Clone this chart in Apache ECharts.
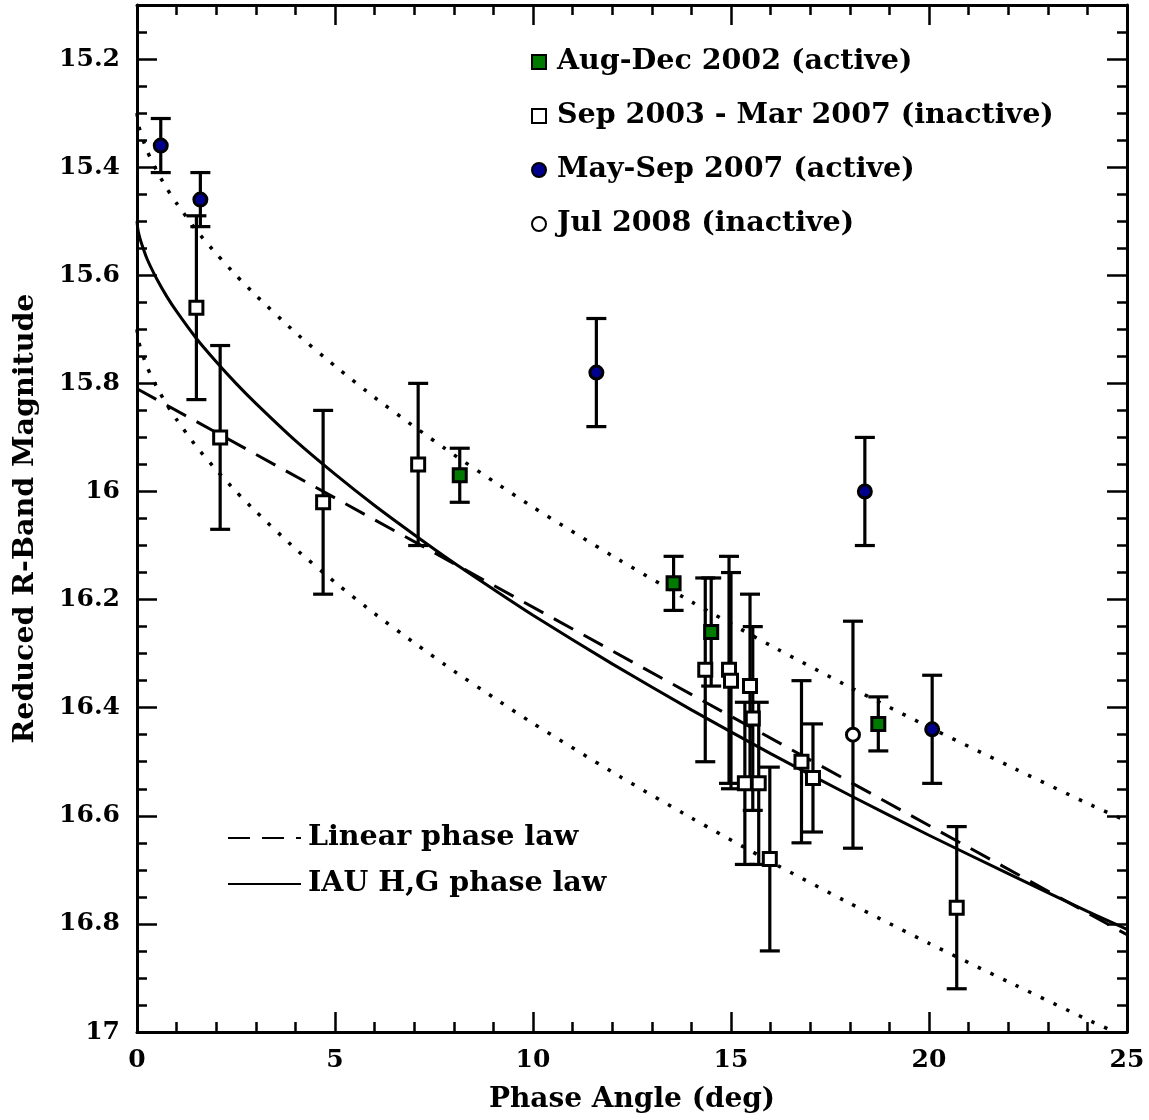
<!DOCTYPE html>
<html>
<head>
<meta charset="utf-8">
<script src="https://cdn.jsdelivr.net/npm/echarts@6/dist/echarts.min.js"></script>
<style>
  html, body { margin: 0; padding: 0; background: #fff; }
  #main { width: 1149px; height: 1120px; }
</style>
</head>
<body>
<div id="main"></div>
<script>
var chartDom = document.getElementById("main");
var myChart = echarts.init(chartDom);
var option;

// Aug-Dec 2002 (active): phase angle, magnitude, error
const activeX02 = [8.15, 13.55, 14.5, 18.72];
const activeY02 = [15.97, 16.17, 16.26, 16.43];
const activeE02 = [0.05, 0.05, 0.1, 0.05];

// Sep 2003 - Mar 2007 (inactive)
const inactX = [1.5, 2.1, 4.7, 7.1, 14.35, 14.95, 15.0, 15.48, 15.55, 15.35, 15.7, 15.98, 16.78, 17.07, 20.7];
const inactY = [15.66, 15.9, 16.02, 15.95, 16.33, 16.33, 16.35, 16.36, 16.42, 16.54, 16.54, 16.68, 16.5, 16.53, 16.77];
const inactE = [0.17, 0.17, 0.17, 0.15, 0.17, 0.21, 0.2, 0.17, 0.17, 0.15, 0.15, 0.17, 0.15, 0.1, 0.15];

// May-Sep 2007 (active)
const activeX07 = [0.6, 1.6, 11.6, 18.38, 20.08];
const activeY07 = [15.36, 15.46, 15.78, 16.0, 16.44];
const activeE07 = [0.05, 0.05, 0.1, 0.1, 0.1];

// Jul 2008 (inactive)
const inactX08 = [18.08];
const inactY08 = [16.45];
const inactE08 = [0.21];

// phase law curves
const linX = [0, 25];
const linMag = [15.81, 16.82];
const curveX = [0, 0.02, 0.05, 0.1, 0.25, 0.5, 0.75, 1, 1.5, 2, 2.5, 3, 4, 5, 6, 7, 8, 9, 10, 12, 14, 16, 18, 20, 22, 24, 25];
const hgMag = [15.5, 15.514, 15.525, 15.538, 15.569, 15.607, 15.639, 15.667, 15.717, 15.76, 15.8, 15.837, 15.906, 15.968, 16.026, 16.08, 16.132, 16.181, 16.229, 16.319, 16.404, 16.485, 16.562, 16.636, 16.707, 16.777, 16.81];
const upperMag = [15.3, 15.314, 15.325, 15.338, 15.369, 15.407, 15.439, 15.467, 15.517, 15.56, 15.6, 15.637, 15.706, 15.768, 15.826, 15.88, 15.932, 15.981, 16.029, 16.119, 16.204, 16.285, 16.362, 16.436, 16.507, 16.577, 16.61];
const lowerMag = [15.7, 15.714, 15.725, 15.738, 15.769, 15.807, 15.839, 15.867, 15.917, 15.96, 16.0, 16.037, 16.106, 16.168, 16.226, 16.28, 16.332, 16.381, 16.429, 16.519, 16.604, 16.685, 16.762, 16.836, 16.907, 16.977, 17.01];

const yMajor = [15.2, 15.4, 15.6, 15.8, 16, 16.2, 16.4, 16.6, 16.8, 17];

const FONT = "DejaVu Serif";

function pts(xs, ys, es) {
  return xs.map(function (x, i) {
    return es ? [x, ys[i], es[i]] : [x, ys[i]];
  });
}

const errData = []
  .concat(pts(inactX, inactY, inactE))
  .concat(pts(activeX02, activeY02, activeE02))
  .concat(pts(activeX07, activeY07, activeE07))
  .concat(pts(inactX08, inactY08, inactE08));

function renderErr(params, api) {
  var x = api.value(0);
  var y = api.value(1);
  var e = api.value(2);
  var top = api.coord([x, y - e]);
  var bot = api.coord([x, y + e]);
  var w = 10;
  var st = { stroke: "#000", lineWidth: 3.2 };
  return {
    type: "group",
    children: [
      { type: "line", shape: { x1: top[0], y1: top[1], x2: bot[0], y2: bot[1] }, style: st },
      { type: "line", shape: { x1: top[0] - w, y1: top[1], x2: top[0] + w, y2: top[1] }, style: st },
      { type: "line", shape: { x1: bot[0] - w, y1: bot[1], x2: bot[0] + w, y2: bot[1] }, style: st },
    ],
  };
}

const frameLine = { show: true, lineStyle: { color: "#000", width: 3 } };
const tickStyle = { color: "#000", width: 2.5 };

function yAxisDef(pos, major, withLabel) {
  var ax = {
    type: "value",
    position: pos,
    inverse: true,
    min: 15.1,
    max: 17,
    interval: 0.05,
    axisLine: major ? { show: false } : frameLine,
    axisTick: major
      ? { show: true, inside: true, length: 20, customValues: yMajor, lineStyle: tickStyle }
      : { show: true, inside: true, length: 10, lineStyle: tickStyle },
    splitLine: { show: false },
    axisLabel: { show: false },
  };
  if (withLabel) {
    ax.axisLabel = {
      show: true,
      customValues: yMajor,
      margin: 17,
      fontFamily: FONT,
      fontWeight: "bold",
      fontSize: 25,
      color: "#000",
      formatter: function (v) {
        return String(+v.toFixed(1));
      },
    };
    ax.name = "Reduced R-Band Magnitude";
    ax.nameLocation = "middle";
    ax.nameGap = 97;
    ax.nameTextStyle = { fontFamily: FONT, fontWeight: "bold", fontSize: 28.5, color: "#000" };
  }
  return ax;
}

function xAxisDef(pos, withLabel) {
  var ax = {
    type: "value",
    position: pos,
    min: 0,
    max: 25,
    interval: 5,
    axisLine: frameLine,
    axisTick: { show: true, inside: true, length: 20, lineStyle: tickStyle },
    minorTick: { show: true, splitNumber: 5, length: 10, lineStyle: tickStyle },
    splitLine: { show: false },
    axisLabel: { show: false },
  };
  if (withLabel) {
    ax.axisLabel = {
      show: true,
      margin: 16,
      showMinLabel: true,
      showMaxLabel: true,
      fontFamily: FONT,
      fontWeight: "bold",
      fontSize: 25,
      color: "#000",
    };
    ax.name = "Phase Angle (deg)";
    ax.nameLocation = "middle";
    ax.nameGap = 54;
    ax.nameTextStyle = { fontFamily: FONT, fontWeight: "bold", fontSize: 28, color: "#000" };
  }
  return ax;
}

const legendText = { fontFamily: FONT, fontWeight: "bold", fontSize: 28.5, color: "#000", lineHeight: 30, padding: [0, 0, 0, 6] };

option = {
  backgroundColor: "#fff",
  animation: false,
  grid: { left: 137, right: 22, top: 5, bottom: 88, outerBoundsMode: "none", containLabel: false },
  legend: [
    {
      data: ["Aug-Dec 2002 (active)", "Sep 2003 - Mar 2007 (inactive)", "May-Sep 2007 (active)", "Jul 2008 (inactive)"],
      orient: "vertical",
      left: 526,
      top: 42,
      itemWidth: 14,
      itemHeight: 14,
      itemGap: 24,
      textStyle: legendText,
      selectedMode: false,
    },
    {
      data: ["Linear phase law", "IAU H,G phase law"],
      orient: "vertical",
      left: 222,
      top: 818,
      itemWidth: 73,
      itemHeight: 14,
      itemGap: 16,
      itemStyle: { opacity: 0 },
      textStyle: { fontFamily: FONT, fontWeight: "bold", fontSize: 28.5, color: "#000", lineHeight: 30, padding: [0, 0, 0, 2] },
      selectedMode: false,
    },
  ],
  xAxis: [xAxisDef("bottom", true), xAxisDef("top", false)],
  yAxis: [yAxisDef("left", false, true), yAxisDef("left", true, false), yAxisDef("right", false, false), yAxisDef("right", true, false)],
  series: [
    {
      name: "errors",
      type: "custom",
      renderItem: renderErr,
      data: errData,
      encode: { x: 0, y: 1 },
      z: 1,
      silent: true,
    },
    {
      name: "upper",
      type: "line",
      data: pts(curveX, upperMag),
      symbol: "none",
      smooth: 0.2,
      lineStyle: { color: "#000", width: 3.5, type: [3.5, 10.5] },
      z: 2,
    },
    {
      name: "lower",
      type: "line",
      data: pts(curveX, lowerMag),
      symbol: "none",
      smooth: 0.2,
      lineStyle: { color: "#000", width: 3.5, type: [3.5, 10.5] },
      z: 2,
    },
    {
      name: "Linear phase law",
      type: "line",
      data: pts(linX, linMag),
      symbol: "none",
      itemStyle: { color: "#000" },
      lineStyle: { color: "#000", width: 3, type: [22, 12] },
      z: 2,
    },
    {
      name: "IAU H,G phase law",
      type: "line",
      data: pts(curveX, hgMag),
      symbol: "none",
      smooth: 0.2,
      itemStyle: { color: "#000" },
      lineStyle: { color: "#000", width: 3 },
      z: 2,
    },
    {
      name: "Aug-Dec 2002 (active)",
      type: "scatter",
      data: pts(activeX02, activeY02),
      symbol: "rect",
      symbolSize: 13,
      itemStyle: { color: "#007a00", borderColor: "#000", borderWidth: 3, opacity: 1 },
      z: 3,
    },
    {
      name: "Sep 2003 - Mar 2007 (inactive)",
      type: "scatter",
      data: pts(inactX, inactY),
      symbol: "rect",
      symbolSize: 13,
      itemStyle: { color: "#fff", borderColor: "#000", borderWidth: 3, opacity: 1 },
      z: 3,
    },
    {
      name: "May-Sep 2007 (active)",
      type: "scatter",
      data: pts(activeX07, activeY07),
      symbol: "circle",
      symbolSize: 13,
      itemStyle: { color: "#00008c", borderColor: "#000", borderWidth: 3, opacity: 1 },
      z: 3,
    },
    {
      name: "Jul 2008 (inactive)",
      type: "scatter",
      data: pts(inactX08, inactY08),
      symbol: "circle",
      symbolSize: 13,
      itemStyle: { color: "#fff", borderColor: "#000", borderWidth: 3, opacity: 1 },
      z: 3,
    },
  ],
};

option && myChart.setOption(option);
</script>
</body>
</html>
